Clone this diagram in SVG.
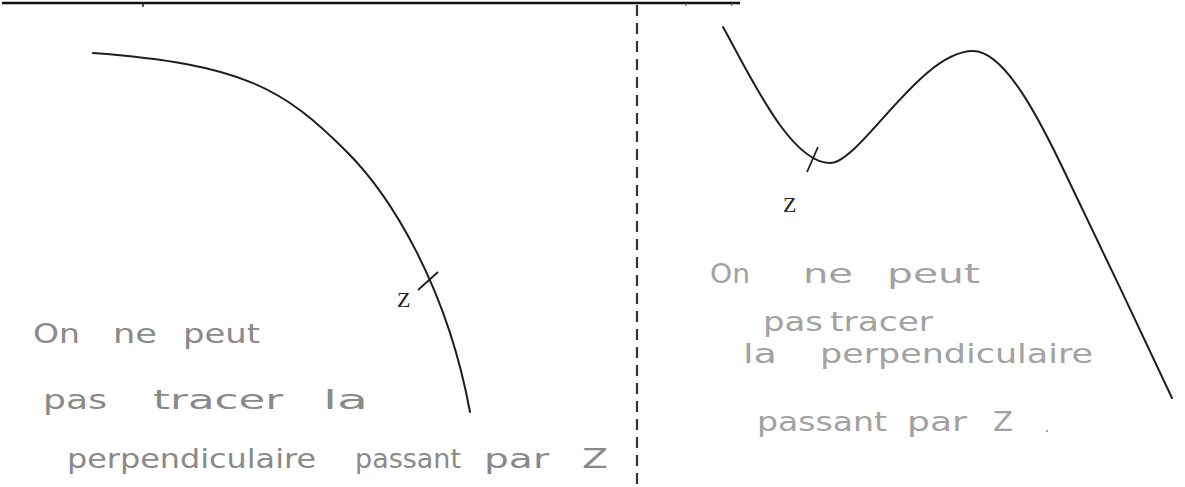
<svg xmlns="http://www.w3.org/2000/svg" width="1185" height="487" viewBox="0 0 1185 487">
<style>
.curve{fill:none;stroke:#1e1e1e;stroke-width:2;stroke-linecap:round}
.tick{stroke:#1e1e1e;stroke-width:1.8}
.lbl{font-family:"Liberation Serif",serif;font-size:22px;fill:#222}
.hw{font-family:"DejaVu Sans",sans-serif;font-size:27px;fill:#8a8a8a}
.hw2{font-family:"DejaVu Sans",sans-serif;font-size:27px;fill:#a2a2a2}
</style>
<rect width="1185" height="487" fill="#fff"/>
<g id="header">
<line x1="2" y1="3" x2="740" y2="3" stroke="#111" stroke-width="2.5"/>
<line x1="143" y1="3" x2="143" y2="7" stroke="#222" stroke-width="1.5"/>
<line x1="685" y1="3" x2="686" y2="6" stroke="#555" stroke-width="1"/>
<line x1="733" y1="3" x2="731" y2="6" stroke="#555" stroke-width="1"/>
</g>
<g id="separator">
<line x1="637" y1="5" x2="637" y2="487" stroke="#333" stroke-width="2.2" stroke-dasharray="11,7"/>
</g>
<g id="left-panel">
<path class="curve" d="M93,53 C243,64.1 283.4,88.4 347,152 C389.4,194.4 446.6,284.6 470,412"/>
<line class="tick" x1="418" y1="290" x2="438" y2="272"/>
<text class="lbl" x="397" y="307">Z</text>
<g class="hw">
<text x="33" y="343" textLength="47" lengthAdjust="spacingAndGlyphs">On</text>
<text x="113" y="343" textLength="44" lengthAdjust="spacingAndGlyphs">ne</text>
<text x="183" y="343" textLength="77" lengthAdjust="spacingAndGlyphs">peut</text>
<text x="43" y="409" textLength="64" lengthAdjust="spacingAndGlyphs">pas</text>
<text x="153" y="409" textLength="130" lengthAdjust="spacingAndGlyphs">tracer</text>
<text x="323" y="409" textLength="45" lengthAdjust="spacingAndGlyphs">la</text>
<text x="67" y="468" textLength="249" lengthAdjust="spacingAndGlyphs">perpendiculaire</text>
<text x="355" y="468" textLength="106" lengthAdjust="spacingAndGlyphs">passant</text>
<text x="484" y="468" textLength="65" lengthAdjust="spacingAndGlyphs">par</text>
<text x="582" y="468" textLength="26" lengthAdjust="spacingAndGlyphs">Z</text>
</g>
</g>
<g id="right-panel">
<path class="curve" d="M723,27 C750,75 790,163 830,163 C860,163 920,51 973,51 C1005,51 1040,120 1067,177 C1100,245 1140,330 1172,398"/>
<line class="tick" x1="807" y1="172" x2="818" y2="147"/>
<text class="lbl" x="783" y="212">Z</text>
<g class="hw2">
<text x="710" y="283" textLength="40" lengthAdjust="spacingAndGlyphs">On</text>
<text x="803" y="283" textLength="50" lengthAdjust="spacingAndGlyphs">ne</text>
<text x="887" y="283" textLength="93" lengthAdjust="spacingAndGlyphs">peut</text>
<text x="763" y="331" textLength="60" lengthAdjust="spacingAndGlyphs">pas</text>
<text x="830" y="331" textLength="103" lengthAdjust="spacingAndGlyphs">tracer</text>
<text x="743" y="363" textLength="34" lengthAdjust="spacingAndGlyphs">la</text>
<text x="820" y="363" textLength="273" lengthAdjust="spacingAndGlyphs">perpendiculaire</text>
<text x="757" y="431" textLength="130" lengthAdjust="spacingAndGlyphs">passant</text>
<text x="907" y="431" textLength="60" lengthAdjust="spacingAndGlyphs">par</text>
<text x="993" y="431" textLength="20" lengthAdjust="spacingAndGlyphs">Z</text>
</g>
<circle cx="1047" cy="431" r="1.3" fill="#aaa"/>
</g>
</svg>
